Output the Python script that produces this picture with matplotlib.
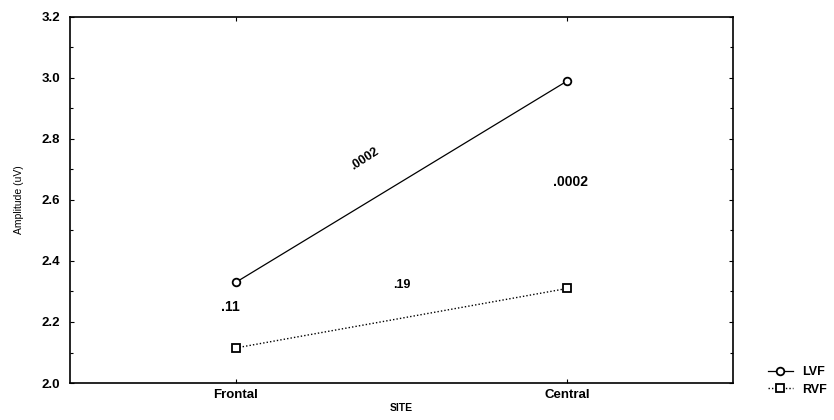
import matplotlib
matplotlib.use("Agg")
import matplotlib.pyplot as plt
from matplotlib.ticker import MultipleLocator

plt.rcParams['font.family'] = ['Liberation Sans', 'DejaVu Sans']

sites = ["Frontal", "Central"]
lvf = [2.33, 2.99]
rvf = [2.115, 2.31]
yticks = [2.0, 2.2, 2.4, 2.6, 2.8, 3.0, 3.2]

# p-value annotations: (text, x, y, rotation, size)
p_labels = [
    (".0002", 0.39, 2.735, 33, 9),
    (".0002", 1.01, 2.66, 0, 10),
    (".11", -0.015, 2.25, 0, 10),
    (".19", 0.50, 2.322, 0, 9),
]

fig = plt.figure(figsize=(8.34, 4.2), dpi=100)
ax = fig.add_axes([0.084, 0.088, 0.795, 0.872])

x = list(range(len(sites)))
ax.plot(x, lvf, color='black', lw=0.9, marker='o', ms=5.5, mfc='white',
        mec='black', mew=1.3, label='LVF')
ax.plot(x, rvf, color='black', lw=1.0, ls=(0, (1, 1.5)), marker='s', ms=5.5,
        mfc='white', mec='black', mew=1.3, label='RVF')

for txt, tx, ty, rot, sz in p_labels:
    ax.text(tx, ty, txt, rotation=rot, fontsize=sz, fontweight='bold',
            ha='center', va='center', rotation_mode='anchor')

ax.set_xlim(-0.5, 1.5)
ax.set_ylim(2.0, 3.2)
ax.set_xticks(x)
ax.set_xticklabels(sites, fontsize=9.5, fontweight='bold')
ax.yaxis.set_minor_locator(MultipleLocator(0.1))
ax.set_yticks(yticks)
ax.set_yticklabels([f"{v:.1f}" for v in yticks], fontsize=9.5, fontweight='bold')
ax.tick_params(axis='both', which='both', direction='in', top=True, right=True)
ax.tick_params(axis='y', which='major', length=3, width=0.8, pad=7)
ax.tick_params(axis='x', which='major', length=3, width=0.8, pad=4)
ax.tick_params(axis='both', which='minor', length=2, width=0.8)
for s in ax.spines.values():
    s.set_linewidth(1.2)

ax.set_xlabel("SITE", fontsize=7.5, fontweight='bold', va='center')
ax.xaxis.set_label_coords(0.5, -0.068)
ax.set_ylabel("Amplitude (uV)", fontsize=7.5, labelpad=13)

ax.legend(loc='lower left', bbox_to_anchor=(1.035, -0.065), frameon=False,
          handlelength=2.0, handletextpad=0.8, labelspacing=0.45,
          prop={'weight': 'bold', 'size': 9})

fig.savefig("out.png", dpi=100)
